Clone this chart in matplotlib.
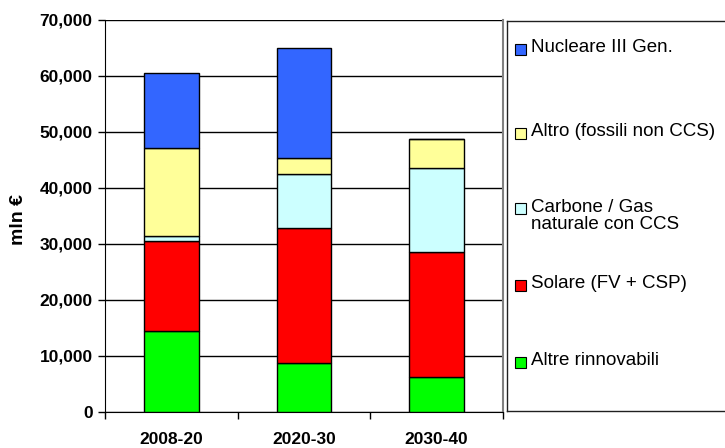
import matplotlib.pyplot as plt
from matplotlib.patches import Rectangle
from matplotlib.ticker import FuncFormatter

plt.rcParams['font.family'] = ['Liberation Sans', 'DejaVu Sans']

periods = ['2008-20', '2020-30', '2030-40']

# investment per source, mln EUR (stacked bottom -> top)
altre_rinnovabili = [14400, 8650, 6150]
solare = [16100, 24200, 22300]
carbone_ccs = [800, 9550, 15050]
altro_fossili = [15900, 2850, 5250]
nucleare = [13300, 19750, 0]

series = [
    ('Altre rinnovabili', altre_rinnovabili, '#00FF00'),
    ('Solare (FV + CSP)', solare, '#FF0000'),
    ('Carbone / Gas\nnaturale con CCS', carbone_ccs, '#CCFFFF'),
    ('Altro (fossili non CCS)', altro_fossili, '#FFFF99'),
    ('Nucleare III Gen.', nucleare, '#3366FF'),
]

fig = plt.figure(figsize=(7.25, 4.48), dpi=100)
ax = fig.add_axes([105 / 725, 1 - 411.5 / 448, 398 / 725, 391.5 / 448])

x = list(range(len(periods)))
bottom = [0] * len(periods)
for name, vals, col in series:
    ax.bar(x, vals, 0.41, bottom=bottom, color=col, edgecolor='black',
           linewidth=1, zorder=3)
    bottom = [b + v for b, v in zip(bottom, vals)]

ax.set_xlim(-0.5, 2.5)
ax.set_ylim(0, 70000)
ax.set_yticks(range(0, 70001, 10000))
ax.yaxis.set_major_formatter(FuncFormatter(lambda v, p: f'{int(v):,}'))
ax.yaxis.grid(True, color='black', linewidth=1, zorder=0)
ax.set_axisbelow(True)

# category labels centred, tick marks between categories
ax.set_xticks(x)
ax.set_xticklabels(periods, fontweight='bold', fontsize=12.5)
ax.tick_params(axis='x', length=0, pad=15)
ax.set_xticks([-0.5, 0.5, 1.5, 2.5], minor=True)
ax.tick_params(axis='x', which='minor', length=5, direction='out', width=1)
ax.tick_params(axis='y', length=5, width=1, labelsize=12.5, pad=4)
for lab in ax.get_yticklabels():
    lab.set_fontweight('bold')

ax.spines['top'].set_visible(False)
ax.spines['left'].set_color('black')
ax.spines['bottom'].set_color('black')
ax.spines['right'].set_color('#808080')
ax.spines['right'].set_linewidth(1.5)

ax.set_ylabel('mln €', fontweight='bold', fontsize=14, va='center')
ax.yaxis.set_label_coords(-0.217, 0.49)

# legend panel
lax = fig.add_axes([507 / 725, 1 - 411 / 448, 230 / 725, 390 / 448])
lax.set_xlim(0, 230)
lax.set_ylim(390, 0)
lax.set_xticks([])
lax.set_yticks([])
for s in lax.spines.values():
    s.set_color('#202020')
    s.set_linewidth(1)
lax.spines['right'].set_visible(False)

legend_y = [29, 112, 188, 264, 341]
for (name, vals, col), y in zip(reversed(series), legend_y):
    lax.add_patch(Rectangle((8, y - 5.5), 11, 11, facecolor=col,
                            edgecolor='black', linewidth=0.8))
    lax.text(23.5, y - 10.5, name, fontsize=13.5, va='top', ha='left',
             linespacing=1.0)

fig.savefig('out.png', dpi=100)
